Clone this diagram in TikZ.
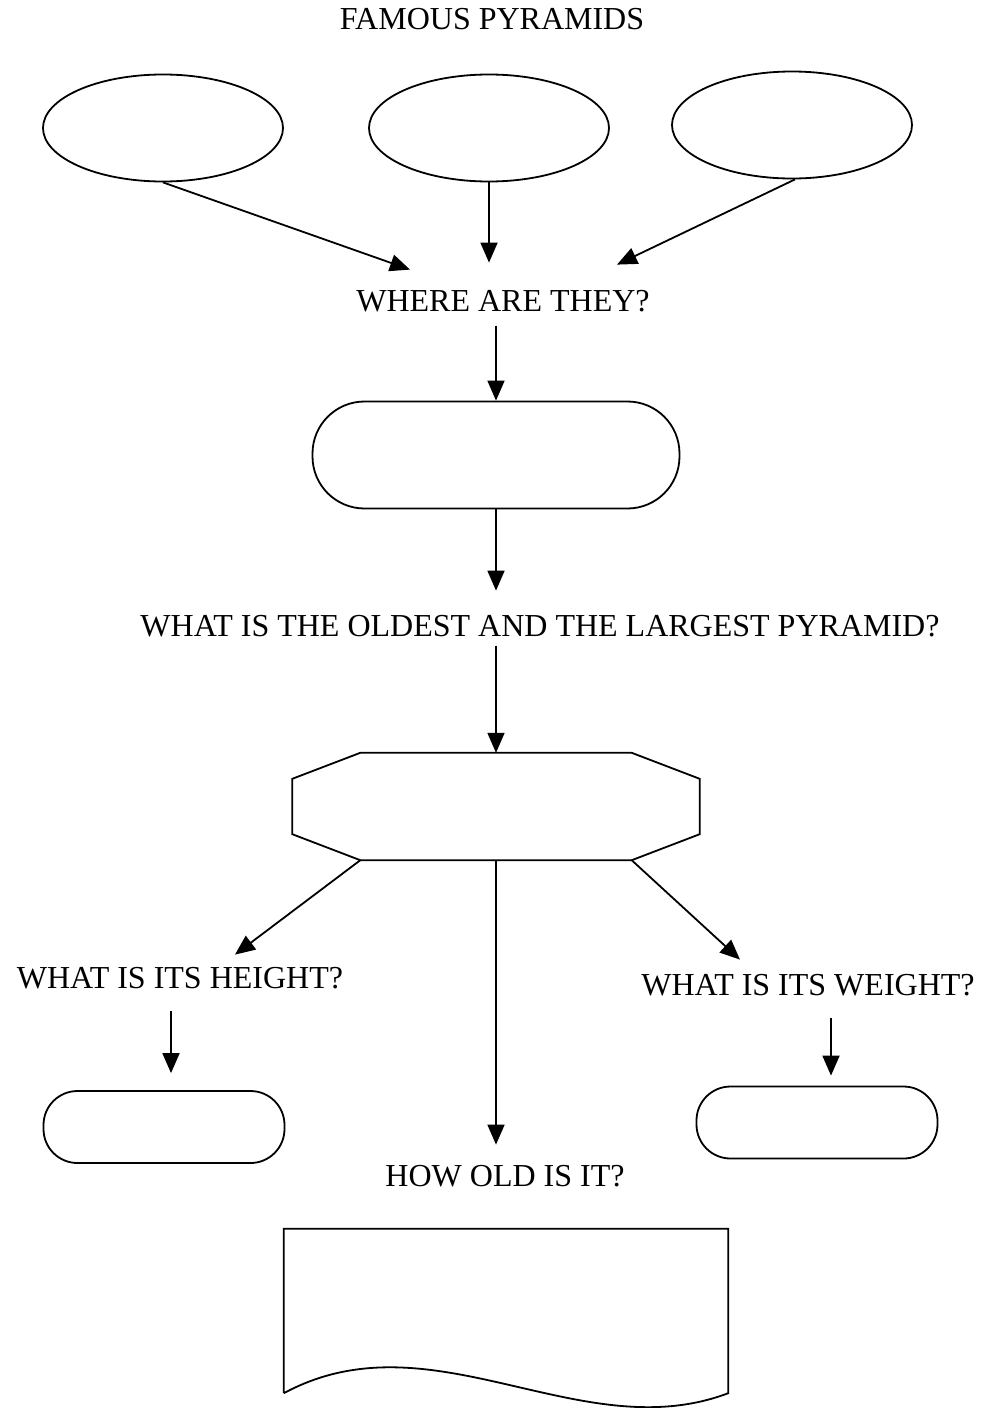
\documentclass[tikz,border=0pt]{standalone}
\usepackage{fontspec}
\setmainfont{Liberation Serif}
\usetikzlibrary{shapes.geometric,arrows.meta,calc}

\tikzset{
  line/.style={line width=1.8pt, draw=black},
  arr/.style={line, -{Triangle[length=20pt,width=17pt]}},
  label/.style={anchor=base, inner sep=0pt, font=\fontsize{32}{38}\selectfont},
  oval/.style={line, ellipse, minimum width=240pt, minimum height=107pt, inner sep=0pt},
  pill/.style={line, rectangle, rounded corners=52pt, minimum width=367pt, minimum height=107pt, inner sep=0pt},
  smallpill/.style={line, rectangle, rounded corners=34pt, minimum width=241pt, minimum height=72pt, inner sep=0pt},
  frame/.style={rectangle, inner sep=0pt},
}

\begin{document}
\begin{tikzpicture}[x=1pt, y=-1pt]
  \useasboundingbox (0,0) rectangle (984,1408);

  % titles and questions
  \node[label] (title)  at (492,29)   {FAMOUS PYRAMIDS};
  \node[label] (where)  at (503,311)  {WHERE ARE THEY?};
  \node[label] (oldest) at (540,636)  {WHAT IS THE OLDEST AND THE LARGEST PYRAMID?};
  \node[label] (height) at (180,988)  {WHAT IS ITS HEIGHT?};
  \node[label] (weight) at (808,995)  {WHAT IS ITS WEIGHT?};
  \node[label] (howold) at (505,1186) {HOW OLD IS IT?};

  % the three pyramids
  \node[oval] (e1) at (163,128) {};
  \node[oval] (e2) at (489,128) {};
  \node[oval] (e3) at (792,125) {};

  % location box
  \node[pill] (st) at (496,455) {};

  % octagon
  \node[frame, minimum width=407pt, minimum height=107pt] (oct) at (496,806.5) {};
  \coordinate (otl) at ($(oct.north west)+(68,0)$);
  \coordinate (otr) at ($(oct.north east)+(-68,0)$);
  \coordinate (obl) at ($(oct.south west)+(68,0)$);
  \coordinate (obr) at ($(oct.south east)+(-68,0)$);
  \draw[line] (otl) -- (otr) -- ($(oct.north east)+(0,26)$) -- ($(oct.south east)+(0,-26)$)
    -- (obr) -- (obl) -- ($(oct.south west)+(0,-26)$) -- ($(oct.north west)+(0,26)$) -- cycle;

  % height and weight answer boxes
  \node[smallpill] (sb1) at (164,1127) {};
  \node[smallpill] (sb2) at (817,1122.5) {};

  % document box
  \node[frame, minimum width=444pt, minimum height=164pt] (doc) at (506,1311) {};
  \draw[line] (doc.south west) -- (doc.north west) -- (doc.north east) -- (doc.south east)
    .. controls ($(doc.south east)+(-148,56)$) and ($(doc.south west)+(148,-80)$) .. (doc.south west);

  % connectors
  \coordinate (w1) at ($(where.north)+(-93,-20)$);
  \coordinate (w2) at ($(where.north)+(0,-27)$);
  \coordinate (w3) at ($(where.north)+(114,-25)$);
  \draw[arr] (e1.south) -- (w1);
  \draw[arr] (e2.south) -- (e2.south |- w2);
  \draw[arr] ($(e3.south)+(3,0)$) -- (w3);

  \draw[arr] ($(st.north |- where.south)+(0,14)$) -- (st.north);
  \draw[arr] (st.south) -- ($(st.south |- oldest.north)+(0,-24)$);
  \draw[arr] ($(oct.north |- oldest.south)+(0,9)$) -- (oct.north);

  \coordinate (ht) at ($(height.north)+(55,-12)$);
  \coordinate (wt) at ($(weight.north)+(-68,-14)$);
  \draw[arr] (obl) -- (ht);
  \draw[arr] (obr) -- (wt);
  \draw[arr] (oct.south) -- ($(oct.south |- howold.north)+(0,-20)$);

  \coordinate (h1) at ($(height.south)+(-9,22)$);
  \coordinate (g1) at ($(weight.south)+(23,22)$);
  \draw[arr] (h1) -- ($(h1 |- sb1.north)+(0,-17)$);
  \draw[arr] (g1) -- ($(g1 |- sb2.north)+(0,-10)$);
\end{tikzpicture}
\end{document}
